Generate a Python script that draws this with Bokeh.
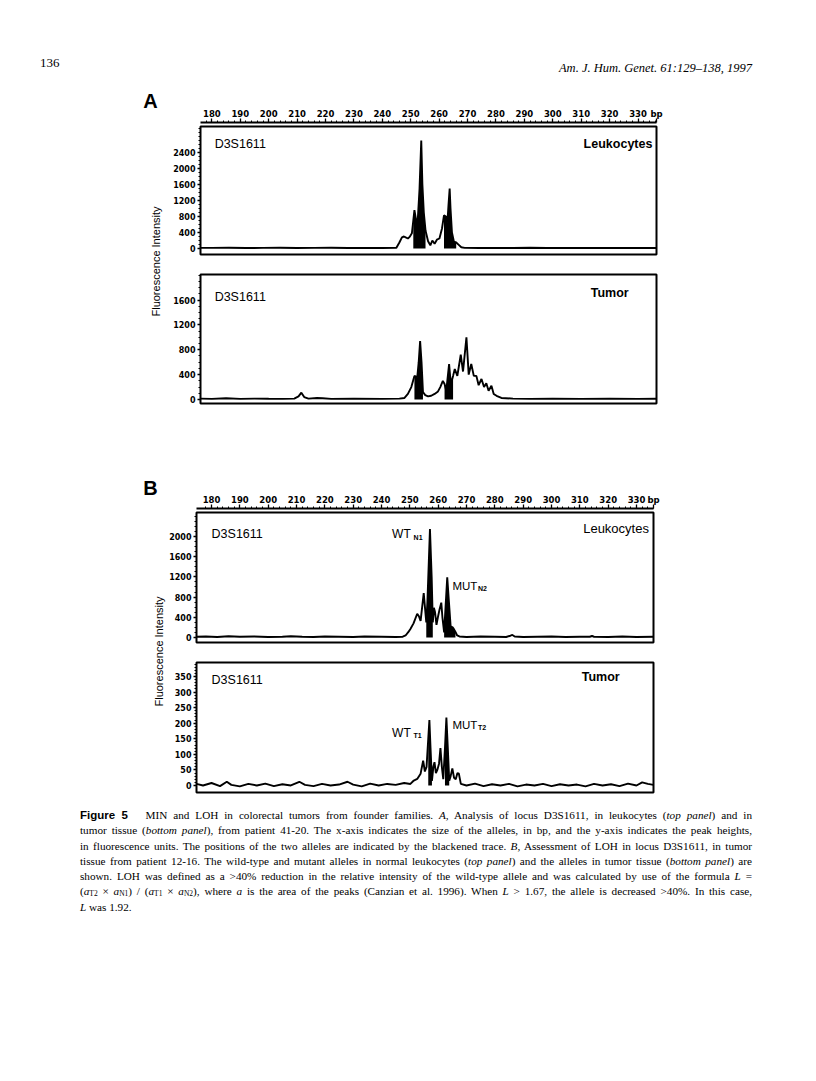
import math
from bokeh.plotting import figure
from bokeh.layouts import column, row
from bokeh.models import Range1d, FixedTicker, Label, Div, Spacer
from bokeh.embed import file_html
from bokeh.resources import INLINE

# ---------------- data ----------------
BP_TICKS = [180, 190, 200, 210, 220, 230, 240, 250, 260, 270, 280, 290, 300, 310, 320, 330]

# Panel A (patient 41-20) leukocytes: (bp, fluorescence)
A_LEUK = [(176, 15), (180, 15), (186, 20), (192, 12), (198, 15), (204, 18), (210, 12), (216, 15),
          (222, 20), (228, 12), (234, 15), (240, 12), (244.9, 15), (246.0, 150), (246.9, 280),
          (247.6, 300), (248.4, 270), (249.0, 250), (249.6, 290), (250.4, 380), (250.9, 700),
          (251.3, 960), (251.9, 700), (252.5, 750), (253.1, 1500), (253.7, 2700), (254.1, 1600),
          (254.6, 900), (255.2, 450), (256.1, 180), (256.9, 80), (257.6, 200), (258.4, 120),
          (259.2, 220), (260.1, 250), (261.0, 500), (261.7, 830), (262.4, 800), (262.9, 650),
          (263.3, 1100), (263.7, 1500), (264.0, 1000), (264.5, 400), (265.2, 170), (266.0, 150),
          (266.9, 90), (267.8, 30), (269.0, 15), (274, 12), (280, 15), (286, 12), (292, 18),
          (298, 12), (304, 15), (310, 12), (316, 15), (322, 12), (328, 15), (336.5, 12)]
A_LEUK_ALLELES = [(250.8, 255.8), (261.2, 266.2)]

# Panel A tumor
A_TUM = [(176, 15), (180, 10), (185, 20), (190, 10), (195, 15), (200, 12), (205, 10), (209, 15),
         (210.5, 50), (211.5, 110), (212.5, 40), (214, 15), (217, 25), (219, 20), (222, 10),
         (230, 12), (240, 10), (246, 15), (247.8, 25), (249.0, 90), (250.2, 200), (251.3, 380),
         (252.3, 360), (252.8, 600), (253.3, 940), (253.8, 600), (254.3, 120), (255.1, 70),
         (256.1, 50), (257.2, 60), (258.4, 90), (259.6, 130), (260.4, 200), (261.3, 300),
         (261.9, 250), (262.5, 140), (263.5, 570), (264.1, 250), (264.9, 380), (265.5, 490),
         (266.4, 380), (267.6, 720), (268.4, 450), (269.6, 1000), (270.4, 400), (271.3, 570),
         (272.2, 380), (273.1, 380), (273.9, 230), (274.9, 330), (275.8, 200), (276.6, 260),
         (277.4, 140), (278.4, 220), (279.2, 90), (280.2, 60), (281.9, 25), (286, 15), (292, 10),
         (300, 12), (310, 10), (320, 15), (330, 10), (336.5, 12)]
A_TUM_ALLELES = [(251.0, 255.0), (261.8, 265.0)]

# Panel B (patient 12-16) leukocytes
B_LEUK = [(174.7, 15), (178, 20), (182, 10), (186, 25), (190, 15), (195, 20), (200, 10), (205, 15),
          (208, 25), (212, 15), (216, 10), (220, 20), (225, 15), (230, 10), (234, 20), (240, 15),
          (245, 10), (247.5, 15), (248.5, 40), (249.5, 110), (250.2, 170), (251.3, 280),
          (252.6, 470), (253.2, 420), (253.8, 330), (254.9, 880), (255.8, 300), (256.2, 700),
          (257.1, 2150), (257.7, 1200), (258.1, 300), (258.5, 590), (258.9, 500), (259.4, 250),
          (259.9, 400), (260.5, 560), (261.1, 690), (261.5, 400), (262.1, 100), (262.6, 600),
          (263.2, 1190), (263.8, 700), (264.4, 220), (265.1, 200), (265.5, 170), (266.1, 110),
          (266.7, 40), (267.5, 20), (270, 10), (275, 20), (280, 15), (284, 10), (285.5, 35),
          (286.2, 50), (287, 20), (290, 10), (295, 15), (300, 20), (305, 10), (310, 15),
          (313.5, 15), (314.3, 30), (315, 15), (320, 10), (325, 20), (330, 10), (336, 15)]
B_LEUK_ALLELES = [(255.6, 258.2), (262.0, 266.2)]

# Panel B tumor
B_TUM = [(174.7, 5), (177, 0), (180, 8), (183, -2), (185.4, 12), (187, 2), (190, -3), (193, 5),
         (196, 0), (199, 6), (202, -2), (205, 4), (208, 0), (211, 12), (213, 2), (216, -2),
         (219, 5), (222, 0), (225, 3), (228, 12), (230, 3), (233, -3), (236, 6), (239, 0),
         (242, 5), (245, 2), (248, 8), (250.2, 5), (251.4, 16), (252.6, 21), (253.8, 38),
         (254.7, 80), (255.3, 45), (255.9, 60), (256.5, 150), (256.9, 210), (257.3, 120),
         (257.8, 15), (258.3, 60), (258.7, 75), (259.2, 40), (259.7, 50), (260.3, 70),
         (260.8, 120), (261.3, 60), (261.8, 20), (262.4, 120), (262.9, 218), (263.4, 120),
         (263.9, 15), (264.4, 30), (265.0, 55), (265.6, 25), (266.2, 20), (266.8, 40),
         (267.3, 38), (268.0, 5), (270, 0), (273, 6), (276, -2), (279, 4), (282, 0), (285, 5),
         (288, -3), (291, 3), (294, 0), (297, 5), (300, -2), (303, 4), (306, 0), (309, 3),
         (312, -3), (315, 5), (318, 0), (321, 4), (324, -2), (327, 6), (330, 0), (332, 10),
         (334, 5), (336, 2)]
B_TUM_ALLELES = [(256.0, 257.9), (261.9, 264.0)]

A_LEUK_TICKS = [0, 400, 800, 1200, 1600, 2000, 2400]
A_TUM_TICKS = [0, 400, 800, 1200, 1600]
B_LEUK_TICKS = [0, 400, 800, 1200, 1600, 2000]
B_TUM_TICKS = [0, 50, 100, 150, 200, 250, 300, 350]

# ---------------- layout / style ----------------
A_X = (176.0, 336.5)
B_X = (174.7, 336.0)
SANS = "Liberation Sans"
TICKFONT = "DejaVu Sans"


def make_top_axis(xr, b_left, b_right, b_top, width=500, frame_h=2):
    p = figure(width=width, height=b_top + frame_h, x_range=Range1d(*xr), y_range=Range1d(0, 1),
               x_axis_location="above", y_axis_location=None, toolbar_location=None,
               output_backend="svg", tools="", min_border_left=b_left, min_border_right=b_right,
               min_border_top=b_top, min_border_bottom=0)
    p.grid.visible = False
    p.outline_line_color = None
    ax = p.xaxis[0]
    ax.ticker = FixedTicker(ticks=BP_TICKS + [xr[1]], minor_ticks=list(range(178, 337, 2)))
    ax.major_label_overrides = {xr[1]: "bp"}
    ax.axis_line_width = 2
    ax.axis_line_color = "black"
    ax.major_tick_out = 4
    ax.major_tick_in = 0
    ax.minor_tick_out = 2
    ax.minor_tick_in = 0
    ax.major_tick_line_width = 1.3
    ax.major_label_standoff = 0
    ax.major_label_text_font = TICKFONT
    ax.major_label_text_font_style = "bold"
    ax.major_label_text_font_size = "8.5px"
    ax.major_label_text_color = "black"
    return p


def make_panel(trace, alleles, xr, yr, yticks, ystep, b_left, b_right, b_top, b_bottom, frame_h,
               width=500):
    p = figure(width=width, height=b_top + frame_h + b_bottom, x_range=Range1d(*xr),
               y_range=Range1d(*yr), x_axis_location=None, y_axis_location="left",
               toolbar_location=None, output_backend="svg", tools="",
               min_border_left=b_left, min_border_right=b_right,
               min_border_top=b_top, min_border_bottom=b_bottom)
    p.grid.visible = False
    p.outline_line_color = "black"
    p.outline_line_width = 2
    p.outline_line_alpha = 1
    ax = p.yaxis[0]
    minor = [ystep * i for i in range(0, int(yr[1] / ystep) + 1)]
    ax.ticker = FixedTicker(ticks=yticks, minor_ticks=minor)
    ax.axis_line_color = None
    ax.major_tick_out = 3
    ax.major_tick_in = 0
    ax.minor_tick_out = 2
    ax.minor_tick_in = 0
    ax.major_tick_line_width = 1.3
    ax.major_label_standoff = 2
    ax.major_label_text_font = TICKFONT
    ax.major_label_text_font_style = "bold"
    ax.major_label_text_font_size = "8px"
    ax.major_label_text_color = "black"
    xs = [t[0] for t in trace]
    ys = [t[1] for t in trace]
    for lo, hi in alleles:
        sel = [t for t in trace if lo <= t[0] <= hi]
        p.varea(x=[s[0] for s in sel], y1=[0] * len(sel), y2=[s[1] for s in sel],
                fill_color="black")
    p.line(xs, ys, line_color="black", line_width=1.9)
    return p


def frac_label(p, fx, fy, text, size="12.5px", align="left", style="normal"):
    xr, yr = p.x_range, p.y_range
    x = xr.start + fx * (xr.end - xr.start)
    y = yr.end - fy * (yr.end - yr.start)
    p.add_layout(Label(x=x, y=y, text=text, text_font=SANS, text_font_size=size,
                       text_font_style=style, text_align=align, text_baseline="middle",
                       text_color="black"))


def make_side(width, height, letter, letter_xy, ylab_xy):
    p = figure(width=width, height=height, x_range=Range1d(0, width), y_range=Range1d(0, height),
               x_axis_location=None, y_axis_location=None, toolbar_location=None,
               output_backend="svg", tools="", min_border=0)
    p.grid.visible = False
    p.outline_line_color = None
    p.add_layout(Label(x=letter_xy[0], y=height - letter_xy[1], text=letter, text_font=SANS,
                       text_font_style="bold", text_font_size="20px", text_align="center",
                       text_baseline="middle", text_color="black"))
    p.add_layout(Label(x=ylab_xy[0], y=height - ylab_xy[1], text="Fluorescence Intensity",
                       angle=math.pi / 2, text_font=SANS, text_font_size="11px",
                       text_align="center", text_baseline="middle", text_color="black"))
    return p


# ---- Panel A ----
axA = make_top_axis(A_X, 30, 14, 37)
A1 = make_panel(A_LEUK, A_LEUK_ALLELES, A_X, (-150, 3050), A_LEUK_TICKS, 100, 30, 14, 2, 4, 128)
frac_label(A1, 0.031, 0.138, "D3S1611")
frac_label(A1, 0.991, 0.133, "Leukocytes", align="right", style="bold")
A2 = make_panel(A_TUM, A_TUM_ALLELES, A_X, (-64, 2010), A_TUM_TICKS, 100, 30, 14, 16, 3, 129)
frac_label(A2, 0.031, 0.178, "D3S1611")
frac_label(A2, 0.939, 0.145, "Tumor", align="right", style="bold")
sideA = make_side(162, 321, "A", (142, 15), (147, 176))

# ---- Panel B ----
axB = make_top_axis(B_X, 30, 13, 38)
B1 = make_panel(B_LEUK, B_LEUK_ALLELES, B_X, (-99, 2475), B_LEUK_TICKS, 100, 30, 13, 2, 3, 130)
frac_label(B1, 0.033, 0.169, "D3S1611")
frac_label(B1, 0.990, 0.123, "Leukocytes", align="right", size="13px")
frac_label(B1, 0.428, 0.165, "WT", size="12px")
frac_label(B1, 0.475, 0.191, "N1", size="7px", style="bold")
frac_label(B1, 0.560, 0.562, "MUT", size="11.5px")
frac_label(B1, 0.616, 0.588, "N2", size="7px", style="bold")
B2 = make_panel(B_TUM, B_TUM_ALLELES, B_X, (-22.5, 395), B_TUM_TICKS, 10, 30, 13, 17, 4, 130)
frac_label(B2, 0.033, 0.135, "D3S1611")
frac_label(B2, 0.926, 0.108, "Tumor", align="right", style="bold")
frac_label(B2, 0.428, 0.541, "WT", size="12px")
frac_label(B2, 0.475, 0.559, "T1", size="7px", style="bold")
frac_label(B2, 0.560, 0.480, "MUT", size="11.5px")
frac_label(B2, 0.616, 0.498, "T2", size="7px", style="bold")
sideB = make_side(158, 326, "B", (142, 17), (150, 181))

# ---- page texts ----
HEADER_HTML = (
    '<div style="position:relative;width:800px;height:77px;color:#000;">'
    '<span style="position:absolute;left:32px;top:46px;font-family:\'Liberation Serif\',serif;'
    'font-size:13px;line-height:18px;">136</span>'
    '<span style="position:absolute;right:56px;top:51px;font-family:\'Liberation Serif\',serif;'
    'font-style:italic;font-size:12.5px;line-height:18px;white-space:nowrap;">'
    'Am. J. Hum. Genet. 61:129&ndash;138, 1997</span></div>'
)

SUB = '<sub style="font-size:7.5px;vertical-align:-1px;line-height:0;">{}</sub>'
CAP_LINES = [
    '<b style="font-family:\'Liberation Sans\',sans-serif;font-size:11.5px;">Figure 5</b>'
    '&nbsp;&nbsp; MIN and LOH in colorectal tumors from founder families. '
    '<i>A,</i> Analysis of locus D3S1611, in leukocytes (<i>top panel</i>) and in',
    'tumor tissue (<i>bottom panel</i>), from patient 41-20. The x-axis indicates the size of the '
    'alleles, in bp, and the y-axis indicates the peak heights,',
    'in fluorescence units. The positions of the two alleles are indicated by the blackened trace. '
    '<i>B,</i> Assessment of LOH in locus D3S1611, in tumor',
    'tissue from patient 12-16. The wild-type and mutant alleles in normal leukocytes '
    '(<i>top panel</i>) and the alleles in tumor tissue (<i>bottom panel</i>) are',
    'shown. LOH was defined as a &gt;40% reduction in the relative intensity of the wild-type '
    'allele and was calculated by use of the formula <i>L</i> =',
    '(<i>a</i>' + SUB.format('T2') + ' &times; <i>a</i>' + SUB.format('N1') + ') / (<i>a</i>'
    + SUB.format('T1') + ' &times; <i>a</i>' + SUB.format('N2') + '), where <i>a</i> is the area '
    'of the peaks (Canzian et al. 1996). When <i>L</i> &gt; 1.67, the allele is decreased '
    '&gt;40%. In this case,',
    '<i>L</i> was 1.92.',
]
cap_html = ('<div style="width:800px;box-sizing:border-box;padding:12px 0 0 72px;color:#000;'
            'font-family:\'Liberation Serif\',serif;font-size:11.2px;line-height:15.3px;">')
for i, line in enumerate(CAP_LINES):
    last = i == len(CAP_LINES) - 1
    cap_html += ('<div style="width:672px;white-space:nowrap;height:15.3px;text-align:%s;'
                 'text-align-last:%s;">%s</div>' % ("left" if last else "justify",
                                                    "left" if last else "justify", line))
cap_html += '</div>'

header = Div(text=HEADER_HTML, width=800, height=77, margin=(0, 0, 0, 0))
gap = Spacer(width=800, height=64, margin=(0, 0, 0, 0))
caption = Div(text=cap_html, width=800, height=130, margin=(0, 0, 0, 0))

rowA = row(sideA, column(axA, A1, A2, spacing=0), spacing=0)
rowB = row(sideB, column(axB, B1, B2, spacing=0), spacing=0)
page = column(header, rowA, gap, rowB, caption, spacing=0, margin=(8, 0, 0, 8))

open("out.html", "w").write(file_html(page, INLINE))
